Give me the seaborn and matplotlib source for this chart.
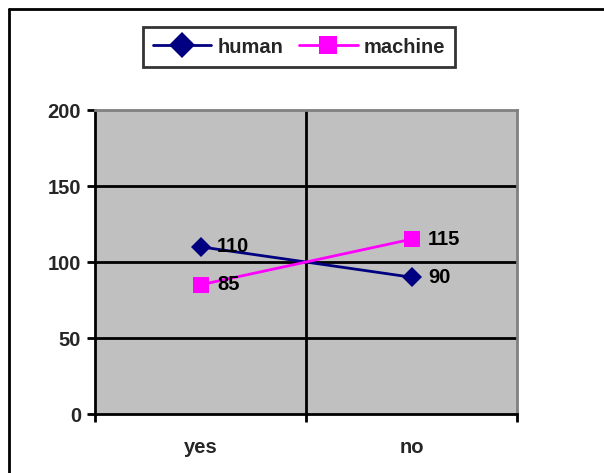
import matplotlib
matplotlib.use("Agg")
import matplotlib.pyplot as plt
import seaborn as sns
import pandas as pd
from matplotlib.lines import Line2D

categories = ["yes", "no"]
human = [110, 90]
machine = [85, 115]
series_names = ["human", "machine"]
yticks = [0, 50, 100, 150, 200]

sns.set_theme(style="white")
plt.rcParams['font.family'] = ['Liberation Sans', 'DejaVu Sans']
plt.rcParams['font.weight'] = 'bold'

FS = 14.5

rows = []
for i, c in enumerate(categories):
    rows.append({"pos": i, "cat": c, "value": human[i], "series": "human"})
    rows.append({"pos": i, "cat": c, "value": machine[i], "series": "machine"})
df = pd.DataFrame(rows)

fig = plt.figure(figsize=(6.04, 4.73), dpi=100)
ax = fig.add_axes([0.1573, 0.1247, 0.6987, 0.6427])
ax.set_facecolor("#C0C0C0")

palette = {"human": "#000080", "machine": "#FF00FF"}
sns.lineplot(data=df, x="pos", y="value", hue="series", style="series",
             markers={"human": "D", "machine": "s"}, dashes=False,
             palette=palette, markersize=10, linewidth=2, ax=ax,
             markeredgewidth=0, legend=True)
for ln in ax.lines:
    if ln.get_marker() == "s":
        ln.set_markersize(12)

# data labels
for i in range(len(categories)):
    for vals, name in ((human, "human"), (machine, "machine")):
        ax.annotate(str(vals[i]), (i, vals[i]), xytext=(12, 0),
                    textcoords="offset points", va="center", ha="left",
                    fontsize=FS, fontweight="bold", color="black")

ax.set_xlim(-0.5, len(categories) - 0.5)
ax.set_ylim(0, 200)
ax.set_yticks(yticks)
ax.set_yticklabels([str(v) for v in yticks], fontsize=FS, fontweight="bold")
ax.set_xticks([-0.5, 0.5, 1.5])
ax.set_xticklabels([])
ax.set_xticks(range(len(categories)), minor=True)
ax.set_xticklabels(categories, minor=True, fontsize=FS, fontweight="bold")
ax.tick_params(axis="x", which="minor", length=0, pad=17)
ax.tick_params(axis="x", which="major", length=6, width=2, direction="out", color="black", bottom=True)
ax.tick_params(axis="y", length=6, width=2, direction="out", color="black", left=True, pad=4)
ax.set_xlabel("")
ax.set_ylabel("")

for v in [50, 100, 150]:
    ax.axhline(v, color="black", linewidth=2, zorder=1)
ax.axvline(0.5, color="black", linewidth=2, zorder=1)

ax.spines["left"].set_color("black")
ax.spines["left"].set_linewidth(2)
ax.spines["bottom"].set_color("black")
ax.spines["bottom"].set_linewidth(2)
ax.spines["top"].set_color("#808080")
ax.spines["top"].set_linewidth(2)
ax.spines["right"].set_color("#808080")
ax.spines["right"].set_linewidth(2)

handles, labels = ax.get_legend_handles_labels()
ax.get_legend().remove()
leg = fig.legend(handles, labels, loc="center", bbox_to_anchor=(0.495, 0.9006),
                 ncol=2, frameon=True, fancybox=False, edgecolor="black",
                 prop={"weight": "bold", "size": FS},
                 handlelength=2.9, handletextpad=0.3, columnspacing=0.8,
                 borderpad=0.5, borderaxespad=0)
leg.get_frame().set_linewidth(2)
for h in leg.legend_handles:
    h.set_markersize(13)

# cropped frame: only top and left edges visible
fig.add_artist(Line2D([9/604, 1.0], [1 - 9/473, 1 - 9/473], transform=fig.transFigure,
                      color="black", linewidth=2))
fig.add_artist(Line2D([9/604, 9/604], [0.0, 1 - 9/473], transform=fig.transFigure,
                      color="black", linewidth=2))

fig.savefig("out.png", dpi=100, facecolor="white")
